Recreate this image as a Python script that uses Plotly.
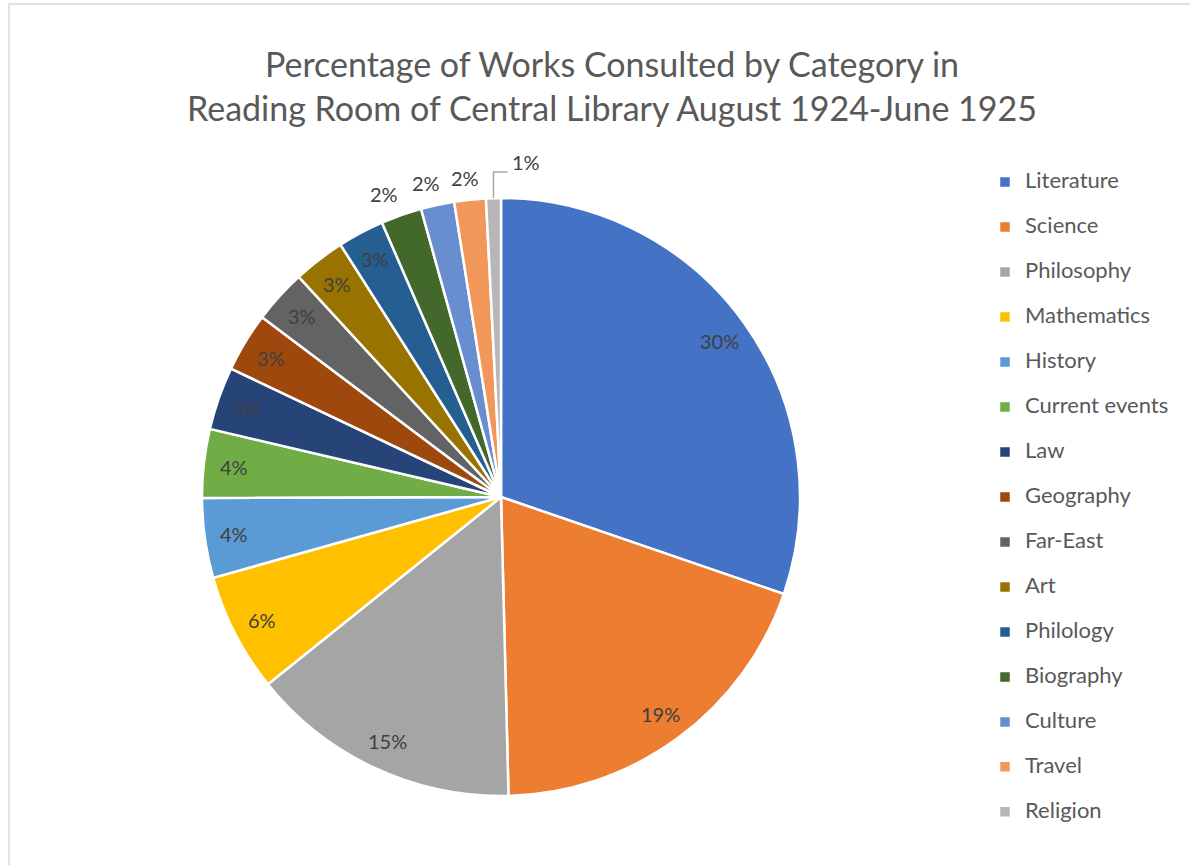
import math
import plotly.graph_objects as go

categories = ["Literature", "Science", "Philosophy", "Mathematics", "History",
              "Current events", "Law", "Geography", "Far-East", "Art",
              "Philology", "Biography", "Culture", "Travel", "Religion"]
percentages = [30.2, 19.3, 14.6, 6.4, 4.3, 3.7, 3.4, 3.2, 2.9, 2.8,
               2.5, 2.2, 1.8, 1.7, 0.8]
colors = ["#4472C4", "#ED7D31", "#A5A5A5", "#FFC000", "#5B9BD5",
          "#70AD47", "#264478", "#9E480E", "#636363", "#997300",
          "#255E91", "#43682B", "#698ED0", "#F1975A", "#B7B7B7"]
title_lines = ["Percentage of Works Consulted by Category in",
               "Reading Room of Central Library August 1924-June 1925"]

W, H = 1190, 865
CX, CY, R = 501, 497, 299
FONT = "Lato, 'Open Sans', sans-serif"
TXT = "#404040"

def px(x):
    return x / W

def py(y):
    return 1 - y / H

legend_size = 16.15
legend_labels = [f"<span style='font-size:22px'>{c}</span><br> " for c in categories]

fig = go.Figure(go.Pie(
    labels=legend_labels,
    values=percentages,
    sort=False,
    direction="clockwise",
    rotation=0,
    marker=dict(colors=colors, line=dict(color="white", width=2.5)),
    textinfo="none",
    hoverinfo="skip",
    domain=dict(x=[px(CX - R), px(CX + R)], y=[py(CY + R), py(CY - R)]),
))

# data labels computed from slice angles
total = sum(percentages)
annotations = []
shapes = []
cum = 0.0
for cat, v in zip(categories, percentages):
    mid = (cum + v / 2) / total * 2 * math.pi
    cum += v
    s, c = math.sin(mid), math.cos(mid)
    label = f"{round(v / total * 100):.0f}%"
    if v >= 2.4:
        rr = 0.9 * R
        annotations.append(dict(x=px(CX + rr * s), y=py(CY - rr * c), xref="paper", yref="paper",
                                text=label, showarrow=False, xanchor="center", yanchor="middle",
                                font=dict(family=FONT, size=20, color=TXT)))
    elif v >= 1.5:
        rr = R + 22
        xx = CX + rr * s + 30 * s
        yy = CY - rr * c
        annotations.append(dict(x=px(xx), y=py(yy), xref="paper", yref="paper",
                                text=label, showarrow=False, xanchor="center", yanchor="middle",
                                font=dict(family=FONT, size=20, color=TXT)))
    else:
        x0, y0 = CX + R * s, CY - R * c
        y1 = CY - R - 26
        x2 = x0 + 14
        shapes.append(dict(type="path", xref="paper", yref="paper",
                           path=f"M {px(x0)} {py(y0)} L {px(x0)} {py(y1)} L {px(x2)} {py(y1)}",
                           line=dict(color="#A6A6A6", width=1.5)))
        annotations.append(dict(x=px(x2 + 3), y=py(y1 - 10), xref="paper", yref="paper",
                                text=label, showarrow=False, xanchor="left", yanchor="middle",
                                font=dict(family=FONT, size=20, color=TXT)))

# chart area border
shapes.append(dict(type="rect", xref="paper", yref="paper", x0=px(9), x1=1.05,
                   y0=-0.05, y1=py(4), line=dict(color="#D9D9D9", width=1.5),
                   fillcolor="rgba(0,0,0,0)", layer="below"))

annotations.append(dict(x=px(612), y=py(85), xref="paper", yref="paper",
                        text="<br>".join(title_lines), showarrow=False,
                        xanchor="center", yanchor="middle",
                        font=dict(family=FONT, size=34, color="#595959")))

fig.update_layout(
    width=W, height=H,
    margin=dict(l=0, r=0, t=0, b=0),
    paper_bgcolor="white", plot_bgcolor="white",
    showlegend=True,
    legend=dict(x=px(985), y=py(165), xanchor="left", yanchor="top",
                font=dict(family=FONT, size=legend_size, color="#595959"),
                valign="top", bgcolor="rgba(0,0,0,0)"),
    annotations=annotations,
    shapes=shapes,
)

fig.write_html("out.html")
